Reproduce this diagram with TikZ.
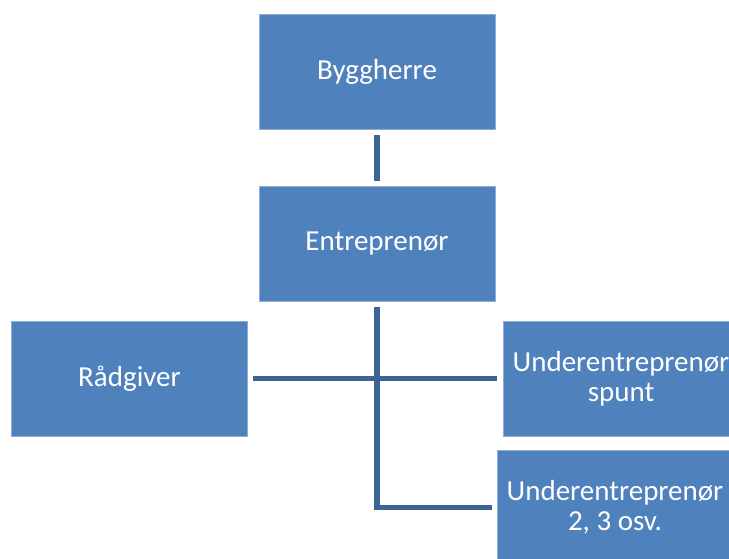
\documentclass[tikz,border=0pt]{standalone}
\usepackage{fontspec}
\setmainfont{Carlito}
\definecolor{boxblue}{RGB}{79,129,189}
\definecolor{linkblue}{RGB}{60,101,150}
\begin{document}
\begin{tikzpicture}[x=1pt,y=-1pt,
  orgbox/.style={rectangle, fill=boxblue, draw=white!35!boxblue, line width=0.8pt,
    minimum width=236pt, minimum height=115pt, inner sep=0pt,
    text=white, align=center,
    font=\fontsize{29}{30}\selectfont},
  link/.style={draw=linkblue, line width=5.5pt, line cap=butt}]
  \useasboundingbox (0,0) rectangle (729,558);
  \begin{scope}
    \clip (0,0) rectangle (729,558);
    \node[orgbox] (by) at (377,71.5) {Byggherre};
    \node[orgbox] (en) at (377,243.5) {Entreprenør};
    \node[orgbox] (ra) at (129.5,378.5) {Rådgiver};
    \node[orgbox] (u1) at (621,378.5) {Underentreprenør\\spunt};
    \node[orgbox] (u2) at (615,507.5) {Underentreprenør\\2, 3 osv.};
    \draw[link, shorten <=5.5pt, shorten >=5pt] (by.south) -- (en.north);
    \draw[link, shorten <=5.5pt, shorten >=5.5pt] (ra.east) -- (u1.west);
    \draw[link, shorten <=5.5pt, shorten >=5pt] (en.south) |- (u2.west);
  \end{scope}
\end{tikzpicture}
\end{document}
